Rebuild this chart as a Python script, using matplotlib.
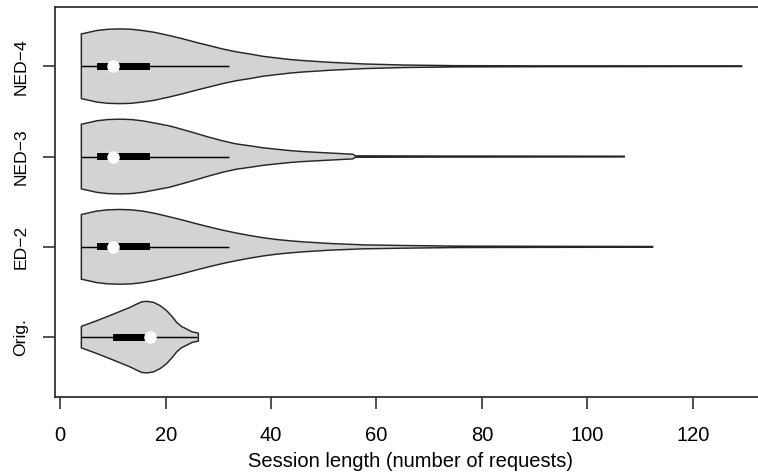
import matplotlib.pyplot as plt
import numpy as np

plt.rcParams["font.family"] = ["Liberation Sans", "DejaVu Sans"]

# categories (bottom to top)
labels = ["Orig.", "ED\u22122", "NED\u22123", "NED\u22124"]

# violin outlines: session length -> half width
orig_x = [4, 6.9, 10.1, 13.2, 14.5, 15.5, 16.5, 17.7, 19.0, 20.2, 21.2, 22.1, 23.0, 24.0, 25.0, 26.2]
orig_w = [0.119, 0.181, 0.255, 0.329, 0.366, 0.392, 0.396, 0.385, 0.347, 0.292, 0.229,
          0.163, 0.118, 0.089, 0.059, 0.044]

ed2_x = [4, 6.9, 9, 11.3, 13.5, 15.6, 18, 20.7, 23.2, 25.7, 28.2, 30.8, 33.4, 36, 38.5,
         41.1, 43.6, 46.1, 51.2, 57.5, 65.1, 75, 90, 112.4]
ed2_w = [0.358, 0.396, 0.41, 0.414, 0.41, 0.396, 0.37, 0.333, 0.297, 0.258, 0.221, 0.185,
         0.153, 0.125, 0.101, 0.081, 0.067, 0.055, 0.037, 0.022, 0.015, 0.008, 0.006, 0.004]

ned3_x = [4, 6.9, 9, 11.3, 13.5, 15.6, 18, 20.7, 23.2, 25.7, 28.2, 30.8, 33.4, 36, 38.5,
          41.1, 43.6, 46.1, 51.2, 55.5, 56, 70, 90, 107]
ned3_w = [0.358, 0.396, 0.41, 0.414, 0.41, 0.396, 0.37, 0.34, 0.30, 0.258, 0.215, 0.174,
          0.14, 0.119, 0.097, 0.081, 0.066, 0.055, 0.039, 0.026, 0.008, 0.006, 0.005, 0.004]

ned4_x = [4, 6.9, 9, 11.3, 13.5, 15.6, 18, 20.7, 23.2, 25.7, 28.2, 30.8, 33.4, 36, 38.5,
          41.1, 43.6, 46.1, 51.2, 57.5, 65.1, 75, 90, 110, 129.3]
ned4_w = [0.358, 0.396, 0.41, 0.414, 0.41, 0.396, 0.375, 0.34, 0.305, 0.266, 0.23, 0.192,
          0.16, 0.136, 0.11, 0.092, 0.075, 0.063, 0.044, 0.026, 0.014, 0.007, 0.005, 0.004, 0.003]

# box plot summaries
q1 = [10, 7, 7, 7]
median = [17, 10, 10, 10]
q3 = [17, 17, 17, 17]
whisk_lo = [4, 4, 4, 4]
whisk_hi = [26, 32, 32, 32]

shapes = [(orig_x, orig_w), (ed2_x, ed2_w), (ned3_x, ned3_w), (ned4_x, ned4_w)]

fig = plt.figure(figsize=(7.58, 4.72), dpi=100)
ax = fig.add_axes([55 / 758, 1 - 396.7 / 472, (766.5 - 55) / 758, (396.7 - 6.7) / 472])

for i, (xs, ws) in enumerate(shapes):
    pos = i + 1
    xs = np.array(xs)
    ws = np.array(ws)
    px = np.concatenate([xs, xs[::-1]])
    py = np.concatenate([pos + ws, (pos - ws)[::-1]])
    ax.fill(px, py, facecolor="#d3d3d3", edgecolor="#262626", linewidth=1.05, zorder=2)
    ax.hlines(pos, whisk_lo[i], whisk_hi[i], color="black", linewidth=1.05, zorder=3)
    ax.barh(pos, q3[i] - q1[i], left=q1[i], height=0.075, color="black", zorder=4)
    ax.plot(median[i], pos, "o", color="white", markersize=9, markeredgewidth=0, zorder=5)

ax.set_xlim(-1, 134)
ax.set_ylim(0.34, 4.66)
ax.set_xticks([0, 20, 40, 60, 80, 100, 120])
ax.set_yticks([1, 2, 3, 4])
ax.set_yticklabels(labels, rotation=90, va="center", fontsize=12.6)
ax.tick_params(axis="x", labelsize=14.5, length=8.5, width=1.2, pad=12.5, color="#333333")
ax.tick_params(axis="y", length=8.5, width=1.2, pad=10.5, color="#333333")
for s in ax.spines.values():
    s.set_color("#333333")
    s.set_linewidth(1.3)
# the box runs past the right edge of the picture
ax.spines["right"].set_visible(False)
ax.set_xlabel("Session length (number of requests)", fontsize=14.5, labelpad=5)

fig.savefig("out.png", dpi=100)
